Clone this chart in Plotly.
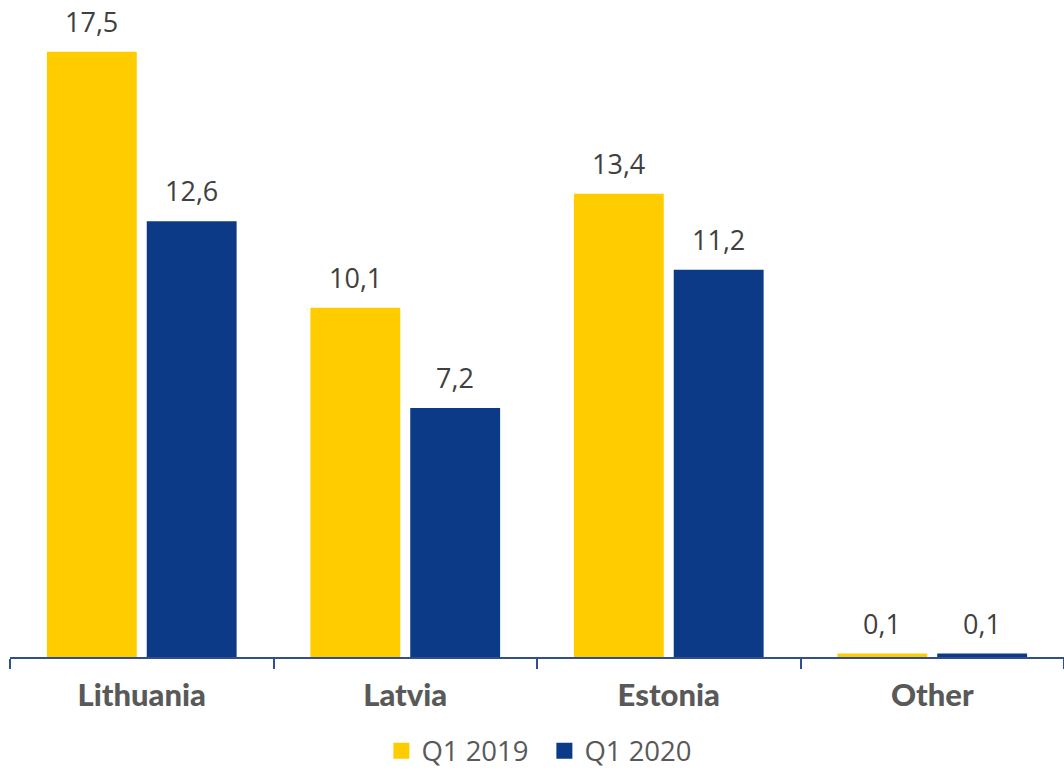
import plotly.graph_objects as go

# Figures by country, first quarter of each year
countries = ["Lithuania", "Latvia", "Estonia", "Other"]
q1_2019 = [17.5, 10.1, 13.4, 0.1]
q1_2020 = [12.6, 7.2, 11.2, 0.1]
series_names = ["Q1 2019", "Q1 2020"]

YELLOW = "#FFCC00"
BLUE = "#0C3A86"
AXIS = "#2F4F8F"
LABEL_GREY = "#404040"
CAT_GREY = "#595959"

BARGAP = 0.242
BARGROUPGAP = 0.1


def fmt(v):
    return f"{v:.1f}".replace(".", ",")


fig = go.Figure()
for name, vals, col in [(series_names[0], q1_2019, YELLOW), (series_names[1], q1_2020, BLUE)]:
    fig.add_trace(go.Bar(
        x=countries, y=vals, name=name, marker=dict(color=col, line=dict(width=0)),
        showlegend=False, hoverinfo="skip",
    ))
    # legend entry with a larger square swatch
    fig.add_trace(go.Scatter(
        x=[None], y=[None], mode="markers", name=name,
        marker=dict(symbol="square", size=16, color=col, line=dict(width=0)),
        showlegend=True,
    ))

# value labels above each bar, offset to the centre of its slot in the group
offset = (1 - BARGAP) / 4
annotations = []
for i, (a, b) in enumerate(zip(q1_2019, q1_2020)):
    for dx, v in ((-offset, a), (offset, b)):
        annotations.append(dict(
            x=i + dx, y=v, xref="x", yref="y", text=fmt(v), showarrow=False,
            yanchor="bottom", yshift=10,
            font=dict(family="Open Sans", size=27, color=LABEL_GREY),
        ))

fig.update_layout(
    width=1064, height=770,
    margin=dict(l=10, r=0, t=0, b=113, autoexpand=False),
    paper_bgcolor="white", plot_bgcolor="white",
    barmode="group", bargap=BARGAP, bargroupgap=BARGROUPGAP,
    annotations=annotations,
    showlegend=True,
    legend=dict(
        orientation="h", x=0.507, xanchor="center", y=-0.18, yanchor="bottom",
        font=dict(family="Open Sans", size=27.5, color=CAT_GREY),
        itemsizing="trace", itemwidth=30, tracegroupgap=0,
        entrywidth=118, entrywidthmode="pixels",
    ),
    xaxis=dict(
        type="category", range=[-0.5, 3.5],
        showline=True, linecolor=AXIS, linewidth=1.5,
        ticks="outside", tickson="boundaries", ticklen=10, tickcolor=AXIS, tickwidth=1.5,
        ticklabelstandoff=10,
        tickfont=dict(family="Lato", size=31, color=CAT_GREY, weight=900),
        showgrid=False, zeroline=False, fixedrange=True,
    ),
    yaxis=dict(
        range=[0, 19], visible=False, showgrid=False, zeroline=False, fixedrange=True,
    ),
)

fig.write_html("out.html", config={"displayModeBar": False})
